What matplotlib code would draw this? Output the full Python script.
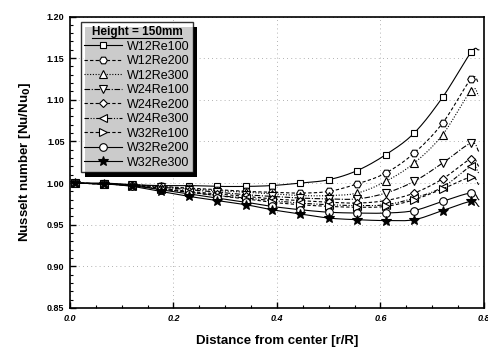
import matplotlib
matplotlib.use("Agg")
import matplotlib.pyplot as plt
import numpy as np
from matplotlib.ticker import MultipleLocator, FormatStrFormatter
import matplotlib.patches as mpatches
from matplotlib.lines import Line2D

plt.rcParams['font.family'] = ['Liberation Sans', 'DejaVu Sans']

# r/R positions of the markers, plus the unmarked end of each curve at the wall
r = [0.01, 0.066, 0.12, 0.175, 0.23, 0.285, 0.34, 0.39, 0.445, 0.5, 0.555, 0.61, 0.665, 0.72, 0.775]
r_end = 0.79

labels = ["W12Re100", "W12Re200", "W12Re300", "W24Re100", "W24Re200",
          "W24Re300", "W32Re100", "W32Re200", "W32Re300"]

W12Re100 = [1.0, 1.0, 0.998, 0.997, 0.997, 0.996, 0.996, 0.997, 1.0, 1.004, 1.015, 1.034, 1.060, 1.103, 1.157]
W12Re200 = [1.0, 0.999, 0.998, 0.996, 0.994, 0.992, 0.990, 0.989, 0.988, 0.990, 0.999, 1.012, 1.036, 1.072, 1.125]
W12Re300 = [1.0, 0.999, 0.998, 0.996, 0.993, 0.991, 0.989, 0.987, 0.985, 0.985, 0.988, 1.002, 1.024, 1.058, 1.111]
W24Re100 = [1.0, 0.999, 0.998, 0.995, 0.992, 0.989, 0.986, 0.984, 0.982, 0.981, 0.981, 0.988, 1.002, 1.024, 1.048]
W24Re200 = [1.0, 0.999, 0.997, 0.994, 0.990, 0.987, 0.984, 0.981, 0.979, 0.977, 0.976, 0.979, 0.988, 1.005, 1.029]
W24Re300 = [1.0, 0.999, 0.997, 0.993, 0.989, 0.985, 0.982, 0.979, 0.976, 0.974, 0.973, 0.974, 0.982, 0.995, 1.020]
W32Re100 = [1.0, 0.999, 0.997, 0.993, 0.989, 0.985, 0.981, 0.977, 0.974, 0.972, 0.971, 0.972, 0.980, 0.993, 1.007]
W32Re200 = [1.0, 0.999, 0.997, 0.992, 0.987, 0.982, 0.977, 0.972, 0.968, 0.965, 0.964, 0.964, 0.967, 0.978, 0.988]
W32Re300 = [1.0, 0.999, 0.996, 0.990, 0.984, 0.979, 0.974, 0.968, 0.963, 0.958, 0.956, 0.955, 0.956, 0.967, 0.978]

end_values = [1.160, 1.120, 1.105, 1.038, 1.020, 1.012, 0.998, 0.980, 0.972]

series = [W12Re100, W12Re200, W12Re300, W24Re100, W24Re200,
          W24Re300, W32Re100, W32Re200, W32Re300]

markers = ['s', 'H', '^', 'v', 'D', '<', '>', 'o', '*']
styles = ['-', (0, (3, 2)), (0, (1, 1.5)), (0, (5, 1.5, 1, 1.5)), (0, (3, 2)),
          (0, (4, 1.5, 1, 1.5, 1, 1.5)), (0, (3, 2)), '-', '-']
msizes = [5, 5.5, 5.5, 5.5, 4.5, 5.5, 5.5, 5.5, 7]


def smooth(x, y, n=12):
    """Catmull-Rom curve through the given points (for drawing only)."""
    x = np.asarray(x, float)
    y = np.asarray(y, float)
    px = np.concatenate([[2 * x[0] - x[1]], x, [2 * x[-1] - x[-2]]])
    py = np.concatenate([[2 * y[0] - y[1]], y, [2 * y[-1] - y[-2]]])
    ox, oy = [], []
    t = np.linspace(0, 1, n, endpoint=False)
    for i in range(1, len(px) - 2):
        for P, out in ((px, ox), (py, oy)):
            p0, p1, p2, p3 = P[i - 1], P[i], P[i + 1], P[i + 2]
            out.extend(0.5 * (2 * p1 + (-p0 + p2) * t + (2 * p0 - 5 * p1 + 4 * p2 - p3) * t ** 2
                              + (-p0 + 3 * p1 - 3 * p2 + p3) * t ** 3))
    ox.append(x[-1])
    oy.append(y[-1])
    return ox, oy


fig = plt.figure(figsize=(4.88, 3.49), dpi=100)
ax = fig.add_axes([0.1434, 0.1175, 0.8484, 0.8352])

handles = []
for vals, lab, m, ls, ms, ev in zip(series, labels, markers, styles, msizes, end_values):
    xs = list(r) + [r_end]
    ys = list(vals) + [ev]
    sx, sy = smooth(xs, ys)
    ax.plot(sx, sy, color='black', lw=0.8, linestyle=ls)
    fc = 'black' if m == '*' else 'white'
    ax.plot(r, vals, linestyle='none', marker=m, markersize=ms,
            markerfacecolor=fc, markeredgecolor='black', markeredgewidth=0.8)
    handles.append(Line2D([], [], color='black', lw=0.8, linestyle=ls, marker=m,
                          markersize=ms, markerfacecolor=fc, markeredgecolor='black',
                          markeredgewidth=0.8, label=lab))

ax.set_xlim(0.0, 0.8)
ax.set_ylim(0.85, 1.20)
ax.xaxis.set_major_locator(MultipleLocator(0.2))
ax.xaxis.set_minor_locator(MultipleLocator(0.05))
ax.yaxis.set_major_locator(MultipleLocator(0.05))
ax.yaxis.set_minor_locator(MultipleLocator(0.01))
ax.xaxis.set_major_formatter(FormatStrFormatter('%.1f'))
ax.yaxis.set_major_formatter(FormatStrFormatter('%.2f'))
ax.tick_params(which='both', direction='in', top=False, right=False)
ax.tick_params(which='major', length=4, width=1.0, labelsize=6.5, pad=4)
ax.tick_params(which='minor', length=2.5, width=0.8)
for t in ax.get_xticklabels():
    t.set_fontstyle('italic')
    t.set_fontweight('bold')
for t in ax.get_yticklabels():
    t.set_fontweight('bold')
for s in ax.spines.values():
    s.set_linewidth(1.2)

ax.grid(True, which='major', color='#999999', linestyle=(0, (1, 4)), linewidth=0.6)

ax.set_xlabel("Distance from center [r/R]", fontsize=9.5, fontweight='bold', labelpad=9)
ax.set_ylabel("Nusselt number [Nu/Nu$_\\mathbf{0}$]", fontsize=9.5, fontweight='bold', labelpad=10)

leg = ax.legend(handles=handles, loc='upper left', bbox_to_anchor=(0.026, 0.98),
                fontsize=9, frameon=True, fancybox=False, shadow=False,
                handlelength=3.0, handletextpad=0.4, labelspacing=0.2,
                borderpad=0.3, borderaxespad=0.0, title="Height = 150mm",
                title_fontproperties={'weight': 'bold', 'size': 8.5})
leg.get_frame().set_edgecolor('black')
leg.get_frame().set_linewidth(1.0)
leg.set_zorder(6)

# shadow for the legend box
fig.canvas.draw()
bb = leg.get_frame().get_window_extent().transformed(fig.transFigure.inverted())
dx, dy = 4 / 488, -5 / 349
shadow = mpatches.Rectangle((bb.x0 + dx, bb.y0 + dy), bb.width, bb.height,
                            transform=fig.transFigure, facecolor='black',
                            edgecolor='none', zorder=5, clip_on=False)
ax.add_patch(shadow)
# underline the title
tb = leg.get_title().get_window_extent().transformed(fig.transFigure.inverted())
ax.add_line(Line2D([tb.x0, tb.x1], [tb.y0 - 0.001, tb.y0 - 0.001],
                   transform=fig.transFigure, color='black', lw=0.8, zorder=7, clip_on=False))

fig.savefig("out.png", dpi=100)
